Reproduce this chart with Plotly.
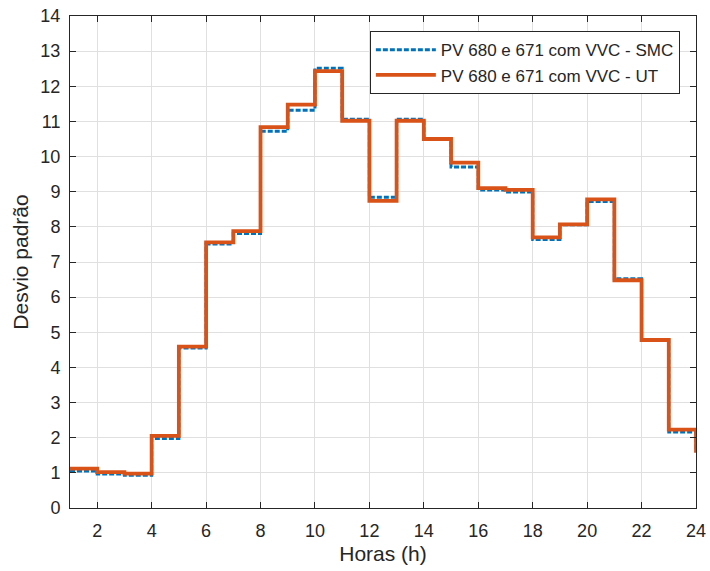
import plotly.graph_objects as go

hours = list(range(1, 25))
smc = [1.05, 0.97, 0.93, 1.98, 4.55, 7.51, 7.81, 10.72, 11.32, 12.51, 11.06, 8.84,
       11.06, 10.50, 9.70, 9.05, 8.99, 7.64, 8.06, 8.72, 6.52, 4.78, 2.16, 1.60]
ut = [1.12, 1.02, 0.98, 2.05, 4.59, 7.56, 7.88, 10.84, 11.48, 12.43, 11.02, 8.74,
      11.02, 10.50, 9.83, 9.10, 9.05, 7.70, 8.07, 8.78, 6.48, 4.78, 2.23, 1.57]
xticks = list(range(2, 25, 2))
yticks = list(range(0, 15))

FONT = "Liberation Sans, Arial, sans-serif"
TXT = "#262626"
fig = go.Figure()
fig.add_trace(go.Scatter(x=hours, y=smc, mode="lines", line_shape="hv",
                         line=dict(color="#0072BD", width=3, dash="5px,2px"),
                         name="PV 680 e 671 com VVC - SMC"))
fig.add_trace(go.Scatter(x=hours, y=ut, mode="lines", line_shape="hv",
                         line=dict(color="#D95319", width=3.8),
                         name="PV 680 e 671 com VVC - UT"))

axis_common = dict(showline=True, linecolor=TXT, linewidth=1, mirror="allticks",
                   ticks="inside", ticklen=6, tickcolor=TXT, automargin=False,
                   showgrid=True, gridcolor="#E0E0E0", gridwidth=1, zeroline=False,
                   tickfont=dict(family=FONT, size=18, color=TXT))
fig.update_xaxes(range=[1, 24], tickvals=xticks, ticklabelstandoff=6,
                 title=dict(text="Horas (h)", font=dict(family=FONT, size=21, color=TXT), standoff=6),
                 **axis_common)
fig.update_yaxes(range=[0, 14], tickvals=yticks, ticklabelstandoff=5,
                 title=dict(text="Desvio padrão", font=dict(family=FONT, size=21, color=TXT), standoff=6),
                 **axis_common)

fig.update_layout(width=710, height=571, margin=dict(l=70, r=14, t=16, b=63),
                  plot_bgcolor="white", paper_bgcolor="white",
                  font=dict(family=FONT, color=TXT),
                  legend=dict(x=0.479, y=0.969, xanchor="left", yanchor="top",
                              bgcolor="white", bordercolor=TXT, borderwidth=1,
                              font=dict(family=FONT, size=17, color=TXT),
                              itemwidth=60, tracegroupgap=0))
fig.write_html("out.html")
